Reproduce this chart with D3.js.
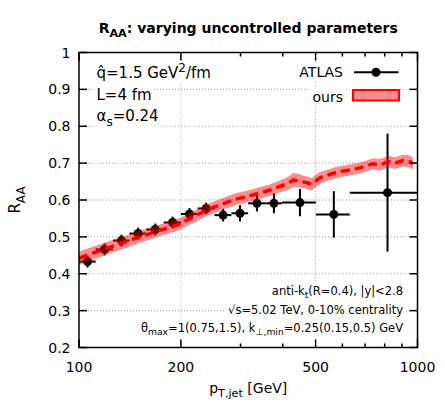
<!DOCTYPE html>
<html>
<head>
<meta charset="utf-8">
<script src="https://cdn.jsdelivr.net/npm/d3@7"></script>
<style>
body { margin: 0; background: #fff; }
svg { font-family: "DejaVu Sans", sans-serif; }
</style>
</head>
<body>
<div id="chart"></div>
<script>
// ATLAS jet R_AA, 0-10%, bins in GeV
var binLo = [100, 112, 126, 141, 158, 178, 200, 224, 251, 282, 316, 355, 398, 501, 631];
var binHi = [112, 126, 141, 158, 178, 200, 224, 251, 282, 316, 355, 398, 501, 631, 1000];
var atlasPt = [106, 119, 133.5, 149.5, 168, 189, 212, 237.5, 266.5, 299, 335.5, 376.5, 449.5, 566, 815.5];
var atlasRaa = [0.433, 0.466, 0.49, 0.509, 0.52, 0.539, 0.562, 0.577, 0.559, 0.564, 0.591, 0.591, 0.593, 0.561, 0.62];
var atlasErr = [0.016, 0.016, 0.016, 0.016, 0.016, 0.016, 0.016, 0.016, 0.017, 0.022, 0.022, 0.027, 0.037, 0.063, 0.16];

// our calculation: central curve + half width of the band
var oursPt  = [100, 107, 115, 126, 138, 150, 162, 175, 186, 199, 208, 220, 233, 247, 261, 276, 292, 309, 327, 346, 367, 385, 401, 416, 430, 445, 460, 475, 487, 500, 515, 545, 577, 618, 661, 700, 739, 775, 820, 858, 906, 931, 955, 970];
var oursRaa = [0.442, 0.452, 0.462, 0.475, 0.487, 0.499, 0.509, 0.519, 0.526, 0.535, 0.545, 0.556, 0.568, 0.578, 0.587, 0.595, 0.603, 0.608, 0.614, 0.620, 0.627, 0.634, 0.640, 0.646, 0.654, 0.653, 0.649, 0.646, 0.643, 0.651, 0.660, 0.668, 0.675, 0.680, 0.685, 0.691, 0.698, 0.695, 0.704, 0.700, 0.707, 0.706, 0.703, 0.698];
var oursW   = [0.018, 0.018, 0.017, 0.017, 0.017, 0.016, 0.016, 0.016, 0.016, 0.016, 0.016, 0.016, 0.016, 0.016, 0.016, 0.016, 0.016, 0.016, 0.016, 0.016, 0.016, 0.016, 0.017, 0.018, 0.019, 0.018, 0.017, 0.017, 0.017, 0.017, 0.016, 0.015, 0.015, 0.015, 0.015, 0.015, 0.015, 0.016, 0.016, 0.016, 0.016, 0.017, 0.016, 0.016];

var xTicks = [100, 200, 500, 1000];
var xMinor = [300, 400, 600, 700, 800, 900];
var yTicks = [0.2, 0.3, 0.4, 0.5, 0.6, 0.7, 0.8, 0.9, 1];
var yTickLabels = ["0.2", "0.3", "0.4", "0.5", "0.6", "0.7", "0.8", "0.9", "1"];

var W = 445, H = 419;
var L = 79, R = 417.5, T = 52.5, B = 347.5;

var x = d3.scaleLog().domain([100, 1000]).range([L, R]);
var y = d3.scaleLinear().domain([0.2, 1]).range([B, T]);

var svg = d3.select("#chart").append("svg")
	.attr("width", W)
	.attr("height", H);

// grid
var grid = svg.append("g")
	.attr("stroke", "#a0a0a0")
	.attr("stroke-width", 1)
	.attr("stroke-dasharray", "1,2");
grid.selectAll("line.gx")
	.data([200, 500])
	.enter().append("line")
	.attr("x1", function(d){ return x(d); })
	.attr("x2", function(d){ return x(d); })
	.attr("y1", T).attr("y2", B);
grid.selectAll("line.gy")
	.data(yTicks.slice(1, -1))
	.enter().append("line")
	.attr("y1", function(d){ return y(d); })
	.attr("y2", function(d){ return y(d); })
	.attr("x1", L).attr("x2", R);

// ATLAS points
var atlas = atlasPt.map(function(d, i){
	return { pt: d, lo: binLo[i], hi: binHi[i], v: atlasRaa[i], e: atlasErr[i] };
});
var pts = svg.append("g").attr("stroke", "#000").attr("stroke-width", 2);
pts.selectAll("line.xe")
	.data(atlas).enter().append("line")
	.attr("x1", function(d){ return x(d.lo); })
	.attr("x2", function(d){ return x(d.hi); })
	.attr("y1", function(d){ return y(d.v); })
	.attr("y2", function(d){ return y(d.v); });
pts.selectAll("line.ye")
	.data(atlas).enter().append("line")
	.attr("x1", function(d){ return x(d.pt); })
	.attr("x2", function(d){ return x(d.pt); })
	.attr("y1", function(d){ return y(d.v - d.e); })
	.attr("y2", function(d){ return y(d.v + d.e); });
pts.selectAll("circle")
	.data(atlas).enter().append("circle")
	.attr("cx", function(d){ return x(d.pt); })
	.attr("cy", function(d){ return y(d.v); })
	.attr("r", 4.5)
	.attr("stroke", "none")
	.attr("fill", "#000");

// ours band + dashed line
var ours = oursPt.map(function(d, i){ return { pt: d, v: oursRaa[i], w: oursW[i] }; });
svg.append("path")
	.datum(ours)
	.attr("fill", "#ff0000")
	.attr("fill-opacity", 0.45)
	.attr("d", d3.area()
		.x(function(d){ return x(d.pt); })
		.y0(function(d){ return y(d.v - d.w); })
		.y1(function(d){ return y(d.v + d.w); }));
svg.append("path")
	.datum(ours)
	.attr("fill", "none")
	.attr("stroke", "#ff0000")
	.attr("stroke-width", 3.5)
	.attr("stroke-dasharray", "9,5")
	.attr("d", d3.line()
		.x(function(d){ return x(d.pt); })
		.y(function(d){ return y(d.v); }));

// text with opaque boxes (pieces: [text, "sub"/"sup"/null])
function label(parent, px, py, size, anchor, pieces, weight){
	var g = parent.append("g");
	var t = g.append("text")
		.attr("x", px).attr("y", py)
		.attr("font-size", size)
		.attr("text-anchor", anchor)
		.attr("font-weight", weight || "normal")
		.attr("fill", "#000");
	var shift = 0;
	pieces.forEach(function(p){
		var s = t.append("tspan").text(p[0]);
		var target = p[1] === "sub" ? 0.3 * size : (p[1] === "sup" ? -0.4 * size : 0);
		if (p[1]) s.attr("font-size", size * 0.8);
		if (target - shift !== 0) s.attr("dy", target - shift);
		shift = target;
	});
	return g;
}
function boxed(g){
	var b = g.node().getBBox();
	g.insert("rect", "text")
		.attr("x", b.x - 2).attr("y", b.y - 1)
		.attr("width", b.width + 4).attr("height", b.height + 2)
		.attr("fill", "#fff");
}

var info = svg.append("g");
boxed(label(info, 96.5, 78, 15, "start", [["q\u0302=1.5 GeV"], ["2", "sup"], ["/fm"]]));
boxed(label(info, 96.5, 99.5, 15, "start", [["L=4 fm"]]));
boxed(label(info, 96.5, 121, 15, "start", [["\u03b1"], ["s", "sub"], ["=0.24"]]));

boxed(label(info, 403, 295, 11.5, "end", [["anti-k"], ["t", "sub"], ["(R=0.4), |y|<2.8"]]));
boxed(label(info, 403, 314, 11.5, "end", [["\u221as=5.02 TeV, 0-10% centrality"]]));
boxed(label(info, 403, 332, 11.5, "end", [["\u03b8"], ["max", "sub"], ["=1(0.75,1.5), k"], ["\u22a5,min", "sub"], ["=0.25(0.15,0.5) GeV"]]));

// legend
var leg = svg.append("g");
boxed(label(leg, 343, 77.3, 14, "end", [["ATLAS"]]));
boxed(label(leg, 343, 101.5, 14, "end", [["ours"]]));
leg.append("line")
	.attr("x1", 354).attr("x2", 398.5)
	.attr("y1", 72.3).attr("y2", 72.3)
	.attr("stroke", "#000").attr("stroke-width", 2);
leg.append("circle")
	.attr("cx", 376).attr("cy", 72.3).attr("r", 4.5)
	.attr("fill", "#000");
leg.append("rect")
	.attr("x", 353).attr("y", 90)
	.attr("width", 46).attr("height", 10.5)
	.attr("fill", "#ff8c8c")
	.attr("stroke", "#ff0000")
	.attr("stroke-width", 2);

// frame + ticks
var axes = svg.append("g").attr("stroke", "#000").attr("stroke-width", 1.5);
axes.append("rect")
	.attr("x", L).attr("y", T)
	.attr("width", R - L).attr("height", B - T)
	.attr("fill", "none");
function xTick(vals, len){
	axes.selectAll(null).data(vals).enter().append("line")
		.attr("x1", function(d){ return x(d); }).attr("x2", function(d){ return x(d); })
		.attr("y1", B).attr("y2", B - len);
	axes.selectAll(null).data(vals).enter().append("line")
		.attr("x1", function(d){ return x(d); }).attr("x2", function(d){ return x(d); })
		.attr("y1", T).attr("y2", T + len);
}
xTick(xTicks, 8);
xTick(xMinor, 4);
axes.selectAll(null).data(yTicks).enter().append("line")
	.attr("x1", L).attr("x2", L + 8)
	.attr("y1", function(d){ return y(d); }).attr("y2", function(d){ return y(d); });
axes.selectAll(null).data(yTicks).enter().append("line")
	.attr("x1", R).attr("x2", R - 8)
	.attr("y1", function(d){ return y(d); }).attr("y2", function(d){ return y(d); });

// tick labels
svg.append("g").selectAll("text")
	.data(xTicks).enter().append("text")
	.attr("x", function(d){ return x(d); })
	.attr("y", 372)
	.attr("text-anchor", "middle")
	.attr("font-size", 14)
	.text(function(d){ return d; });
svg.append("g").selectAll("text")
	.data(yTicks).enter().append("text")
	.attr("x", 70.5)
	.attr("y", function(d){ return y(d) + 5; })
	.attr("text-anchor", "end")
	.attr("font-size", 14)
	.text(function(d, i){ return yTickLabels[i]; });

// titles
label(svg, (L + R) / 2, 33, 14, "middle", [["R"], ["AA", "sub"], [": varying uncontrolled parameters"]], "bold");
label(svg, (L + R) / 2, 393, 14, "middle", [["p"], ["T,jet", "sub"], [" [GeV]"]]);
label(svg, 0, 0, 15, "middle", [["R"], ["AA", "sub"]])
	.attr("transform", "translate(20," + ((T + B) / 2) + ") rotate(-90)");
</script>
</body>
</html>
